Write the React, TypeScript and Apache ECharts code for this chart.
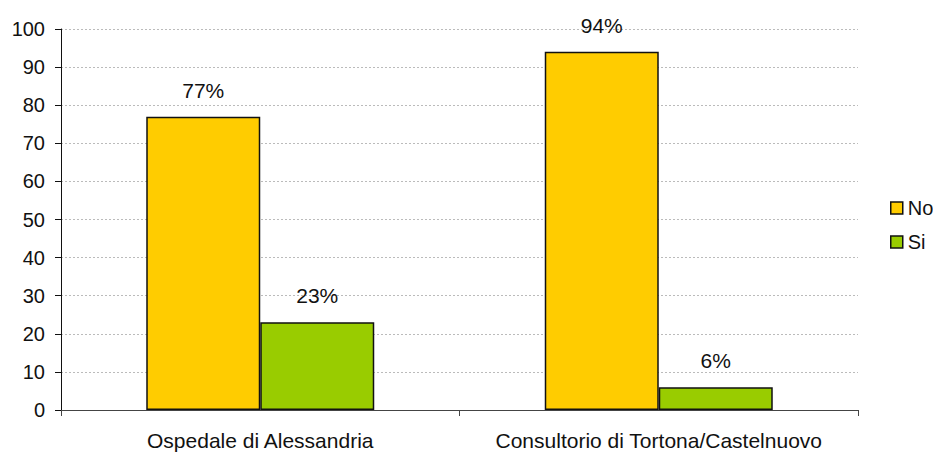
import React, { useEffect, useRef } from "react";
import * as echarts from "echarts";

const categories = ["Ospedale di Alessandria", "Consultorio di Tortona/Castelnuovo"];
const seriesNames = ["No", "Si"];
const noValues = [77, 94];
const siValues = [23, 6];
const yTicks = { min: 0, max: 100, interval: 10 };

const FONT = "Arial, 'Liberation Sans', sans-serif";
const COLORS = ["#FFCC00", "#99CC00"];

export default function App() {
  const ref = useRef<HTMLDivElement>(null);

  useEffect(() => {
    if (!ref.current) return;
    const chart = echarts.init(ref.current, undefined, { renderer: "svg" });

    const makeSeries = (name: string, values: number[], color: string) => ({
      name,
      type: "bar",
      data: values,
      barWidth: 114,
      barGap: "0%",
      itemStyle: { color, borderColor: "#111", borderWidth: 1.5 },
      label: {
        show: true,
        position: "top",
        distance: 16,
        formatter: "{c}%",
        color: "#111",
        fontFamily: FONT,
        fontSize: 21,
      },
    });

    chart.setOption({
      animation: false,
      backgroundColor: "#fff",
      grid: { left: 61, right: 75, top: 29, bottom: 42, containLabel: false },
      legend: {
        data: seriesNames,
        orient: "vertical",
        left: 885,
        top: 193,
        itemWidth: 12,
        itemHeight: 12,
        itemGap: 14,
        icon: "rect",
        itemStyle: { borderColor: "#111", borderWidth: 1.5 },
        textStyle: { fontFamily: FONT, fontSize: 20, color: "#111" },
      },
      xAxis: {
        type: "category",
        data: categories,
        axisLine: { lineStyle: { color: "#444", width: 1 } },
        axisTick: { show: true, length: 6, alignWithLabel: false, lineStyle: { color: "#444" } },
        axisLabel: { interval: 0, fontFamily: FONT, fontSize: 21, color: "#111", margin: 20 },
      },
      yAxis: {
        type: "value",
        min: yTicks.min,
        max: yTicks.max,
        interval: yTicks.interval,
        axisLine: { show: true, lineStyle: { color: "#111", width: 1 } },
        axisTick: { show: true, length: 6, lineStyle: { color: "#111" } },
        axisLabel: { fontFamily: FONT, fontSize: 20, color: "#111", margin: 16 },
        splitLine: { show: true, lineStyle: { color: "#bbb", type: [2, 2], width: 1 } },
      },
      series: [
        makeSeries(seriesNames[0], noValues, COLORS[0]),
        makeSeries(seriesNames[1], siValues, COLORS[1]),
      ],
    });

    return () => chart.dispose();
  }, []);

  return (
    <div
      ref={ref}
      style={{ position: "absolute", left: 0, top: 0, width: 933, height: 452 }}
    />
  );
}
